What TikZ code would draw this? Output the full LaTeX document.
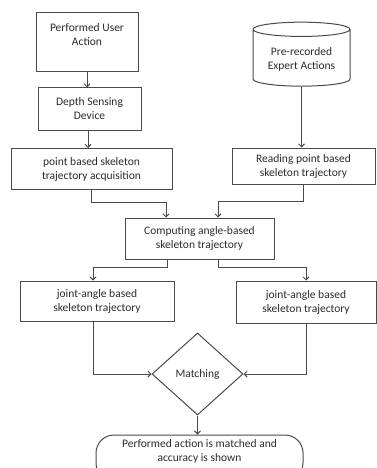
\documentclass[tikz,border=0pt]{standalone}
\usepackage{fontspec}
\setmainfont{Carlito}
\usetikzlibrary{shapes.geometric,arrows.meta}
\definecolor{lne}{HTML}{4A4A4A}
\definecolor{txt}{HTML}{2A2A2A}
\tikzset{
  box/.style={draw=lne, line width=1pt, align=center, text=txt, inner sep=2pt},
  flow/.style={draw=lne, line width=0.9pt, -{Straight Barb[length=3pt,width=6pt]}},
  link/.style={draw=lne, line width=0.9pt}
}
\begin{document}
\begin{tikzpicture}[x=1pt, y=1pt, font=\fontsize{11.5}{14}\selectfont]
    \useasboundingbox (0,0) rectangle (377,-468);
    % left column
    \node[box, minimum width=102pt, minimum height=59pt, text depth=15pt] (act) at (87,-42.5) {Performed User\\Action};
    \node[box, minimum width=103pt, minimum height=42pt] (dev) at (89.5,-109) {Depth Sensing\\Device};
    \node[box, minimum width=161pt, minimum height=41pt] (pts) at (91.5,-169) {point based skeleton\\trajectory acquisition};
    % right column
    \node[box, cylinder, shape border rotate=90, aspect=0.2, minimum width=97pt, minimum height=64pt] (db) at (301.5,-59) {Pre-recorded\\Expert Actions};
    \node[box, minimum width=143pt, minimum height=36pt] (rd) at (303.5,-166) {Reading point based\\skeleton trajectory};
    % middle
    \node[box, minimum width=149pt, minimum height=41pt] (cmp) at (199.5,-238.5) {Computing angle-based\\skeleton trajectory};
    \node[box, minimum width=154pt, minimum height=40pt] (ja1) at (97,-301) {joint-angle based\\skeleton trajectory};
    \node[box, minimum width=140pt, minimum height=42pt] (ja2) at (306,-302) {joint-angle based\\skeleton trajectory};
    \node[box, diamond, minimum width=91pt, minimum height=82pt, inner sep=0pt] (mat) at (197.5,-374) {Matching};
    \node[box, rounded corners=18pt, minimum width=207pt, minimum height=46pt, text depth=14pt] (res) at (199.5,-458) {Performed action is matched and\\accuracy is shown};

    \draw[flow] (act) -- (act.south |- dev.north);
    \draw[flow] ([xshift=-1.5pt]dev.south) -- ([xshift=-1.5pt]dev.south |- pts.north);
    \draw[flow] (db.south) -- (db.south |- rd.north);
    \draw[flow] (pts.south) -- ++(0,-12) -| ([xshift=-33.5pt]cmp.north);
    \draw[flow] (rd.south) -- ++(0,-17) -| ([xshift=18.5pt]cmp.north);
    \draw[flow] ([xshift=-32.5pt]cmp.south) -- ++(0,-8) -| ([xshift=-4pt]ja1.north);
    \draw[flow] ([xshift=18.5pt]cmp.south) -- ++(0,-8) -| (ja2.north);
    \draw[flow] ([xshift=-4pt]ja1.south) |- (mat.west);
    \draw[flow] (ja2.south) |- (mat.east);
    \draw[flow] (mat.south) -- (mat.south |- res.north);
\end{tikzpicture}
\end{document}
